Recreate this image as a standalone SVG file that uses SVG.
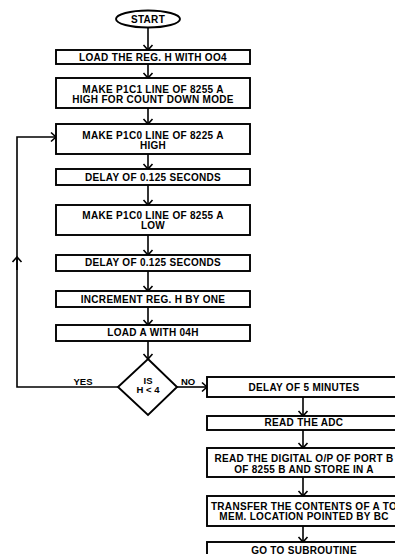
<svg xmlns="http://www.w3.org/2000/svg" width="395" height="554" viewBox="0 0 395 554">
<defs>
<marker id="ah" markerUnits="userSpaceOnUse" markerWidth="12" markerHeight="12" viewBox="-6 -6 12 12" refX="0" refY="0" orient="auto">
<path d="M-5,-4.5 L0,0 L-5,4.5" fill="none" stroke="#000" stroke-width="1.6"/>
</marker>
</defs>
<style>
.b{fill:#fff;stroke:#000;stroke-width:1.9}
.t{font-family:"Liberation Sans",Arial,sans-serif;font-weight:bold;font-size:10px;letter-spacing:0.3px;text-anchor:middle;fill:#000}
.l{font-family:"Liberation Sans",Arial,sans-serif;font-weight:bold;font-size:9.5px;text-anchor:middle;fill:#000}
.c{fill:none;stroke:#000;stroke-width:1.6}
</style>
<rect width="395" height="554" fill="#fff"/>
<g id="connectors">
<line class="c" x1="148" y1="27" x2="148" y2="50" marker-end="url(#ah)"/>
<line class="c" x1="148" y1="64" x2="148" y2="78" marker-end="url(#ah)"/>
<line class="c" x1="148" y1="108" x2="148" y2="124" marker-end="url(#ah)"/>
<line class="c" x1="148" y1="154" x2="148" y2="169" marker-end="url(#ah)"/>
<line class="c" x1="148" y1="185" x2="148" y2="205" marker-end="url(#ah)"/>
<line class="c" x1="148" y1="235" x2="148" y2="255" marker-end="url(#ah)"/>
<line class="c" x1="148" y1="271" x2="148" y2="291" marker-end="url(#ah)"/>
<line class="c" x1="148" y1="307" x2="148" y2="325" marker-end="url(#ah)"/>
<line class="c" x1="148" y1="341" x2="148" y2="359" marker-end="url(#ah)"/>
<line class="c" x1="177" y1="387" x2="207" y2="387" marker-end="url(#ah)"/>
<line class="c" x1="303" y1="397" x2="303" y2="416" marker-end="url(#ah)"/>
<line class="c" x1="303" y1="430" x2="303" y2="448" marker-end="url(#ah)"/>
<line class="c" x1="303" y1="477" x2="303" y2="496" marker-end="url(#ah)"/>
<line class="c" x1="303" y1="526" x2="303" y2="542" marker-end="url(#ah)"/>
<polyline class="c" points="118,387 17,387 17,137 56,137" marker-end="url(#ah)"/>
<line class="c" x1="17" y1="270" x2="17" y2="257" marker-end="url(#ah)"/>
<text class="l" x="83" y="385">YES</text>
<text class="l" x="188" y="385">NO</text>
</g>
<g id="start">
<ellipse class="b" cx="148" cy="19" rx="32" ry="8.5"/>
<text class="t" x="148" y="22.6">START</text>
</g>
<g id="n1">
<rect class="b" x="56" y="50" width="194" height="14"/>
<text class="t" x="153" y="60.6">LOAD THE REG. H WITH OO4</text>
</g>
<g id="n2">
<rect class="b" x="56" y="78" width="194" height="30"/>
<text class="t" x="153" y="92.6">MAKE P1C1 LINE OF 8255 A</text>
<text class="t" x="153" y="102.8">HIGH FOR COUNT DOWN MODE</text>
</g>
<g id="n3">
<rect class="b" x="56" y="124" width="194" height="30"/>
<text class="t" x="153" y="138.6">MAKE P1C0 LINE OF 8225 A</text>
<text class="t" x="153" y="149">HIGH</text>
</g>
<g id="n4">
<rect class="b" x="56" y="169" width="194" height="16"/>
<text class="t" x="153" y="180.6">DELAY OF 0.125 SECONDS</text>
</g>
<g id="n5">
<rect class="b" x="56" y="205" width="194" height="30"/>
<text class="t" x="153" y="218.6">MAKE P1C0 LINE OF 8255 A</text>
<text class="t" x="153" y="229">LOW</text>
</g>
<g id="n6">
<rect class="b" x="56" y="255" width="194" height="16"/>
<text class="t" x="153" y="266">DELAY OF 0.125 SECONDS</text>
</g>
<g id="n7">
<rect class="b" x="56" y="291" width="194" height="16"/>
<text class="t" x="153" y="302.6">INCREMENT REG. H BY ONE</text>
</g>
<g id="n8">
<rect class="b" x="56" y="325" width="194" height="16"/>
<text class="t" x="153" y="336">LOAD A WITH 04H</text>
</g>
<g id="decision">
<polygon class="b" points="148,359 177,387 148,415 118,387"/>
<text class="l" x="148" y="383.5">IS</text>
<text class="l" x="148" y="393">H &lt; 4</text>
</g>
<g id="r1">
<rect class="b" x="207" y="377" width="194" height="20"/>
<text class="t" x="304" y="391">DELAY OF 5 MINUTES</text>
</g>
<g id="r2">
<rect class="b" x="207" y="416" width="194" height="14"/>
<text class="t" x="304" y="426">READ THE ADC</text>
</g>
<g id="r3">
<rect class="b" x="207" y="448" width="194" height="29"/>
<text class="t" x="304" y="462">READ THE DIGITAL O/P OF PORT B</text>
<text class="t" x="304" y="472.6">OF 8255 B AND STORE IN A</text>
</g>
<g id="r4">
<rect class="b" x="207" y="496" width="194" height="30"/>
<text class="t" x="304" y="510.3">TRANSFER THE CONTENTS OF A TO</text>
<text class="t" x="304" y="520.3">MEM. LOCATION POINTED BY BC</text>
</g>
<g id="r5">
<rect class="b" x="207" y="542" width="194" height="18"/>
<text class="t" x="304" y="553.6">GO TO SUBROUTINE</text>
</g>
</svg>
